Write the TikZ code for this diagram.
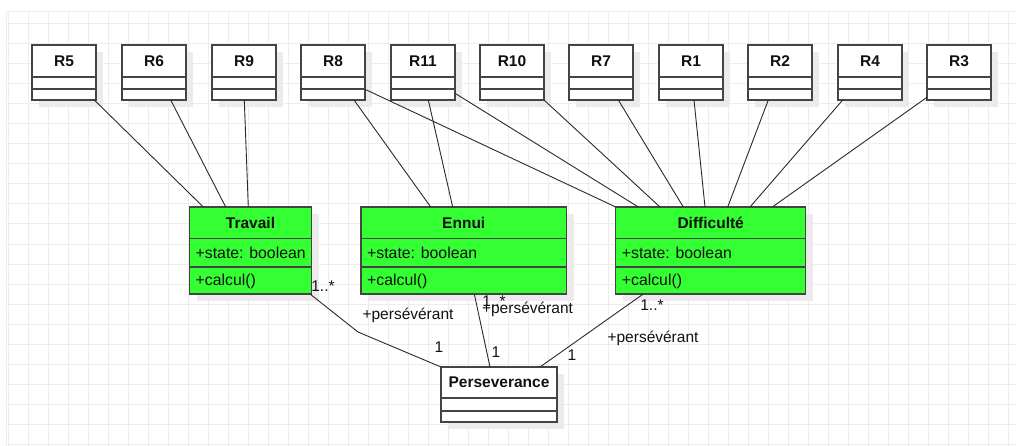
\documentclass[tikz,border=0pt]{standalone}
\usepackage{fontspec}
\setmainfont{Liberation Sans}
\usetikzlibrary{calc}
\definecolor{umlgreen}{HTML}{33FF33}
\definecolor{gridc}{HTML}{EDEDED}
\definecolor{edgec}{HTML}{2A2A2A}
\definecolor{borderc}{HTML}{444444}
\definecolor{shadowc}{HTML}{EBEBEB}
\definecolor{txtc}{HTML}{111111}
\tikzset{
  clsbox/.style={draw=borderc, line width=1.3pt, rectangle, anchor=north west, inner sep=0pt, outer sep=0pt},
  clsrule/.style={draw=borderc, line width=1.3pt},
  clstitle/.style={inner sep=0pt, font=\fontsize{15.5}{18}\selectfont\bfseries, text=txtc},
  clsattr/.style={inner sep=0pt, anchor=west, font=\fontsize{15.8}{18}\selectfont, text=txtc},
  edge/.style={draw=edgec, line width=0.9pt},
  lbl/.style={inner sep=0pt, font=\fontsize{15.5}{18}\selectfont, text=txtc},
  gridline/.style={draw=gridc, line width=1pt}
}
\newcommand{\umlcls}[9]{%
  \fill[shadowc] (#2+7,#3+7) rectangle (#2+#4+7,#3+#5+7);
  \node[clsbox, fill=#8, minimum width=#4pt, minimum height=#5pt] (#1) at (#2,#3) {};
  \node[clstitle] (#1-title) at ($(#1.north)+(0,#6/2)$) {#9};
  \draw[clsrule] ($(#1.north west)+(0,#6)$) -- ($(#1.north east)+(0,#6)$);
  \draw[clsrule] ($(#1.north west)+(0,#7)$) -- ($(#1.north east)+(0,#7)$);
}
\begin{document}
\begin{tikzpicture}[x=1pt, y=-1pt]
\useasboundingbox (0,0) rectangle (1016,446);
\fill[white] (0,0) rectangle (1016,446);
% grid
\foreach \gx in {8,28,...,1008} { \draw[gridline] (\gx,12) -- (\gx,446); }
\foreach \gy in {24,44,...,444} { \draw[gridline] (6,\gy) -- (1016,\gy); }
\draw[gridline] (6,12) -- (1016,12);
\draw[gridline] (6,12) -- (6,446);
% top classes
\foreach \n/\x in {R5/32,R6/122,R9/212,R8/301,R11/391,R10/480,R7/569,R1/659,R2/748,R4/838,R3/927} {
  \umlcls{\n}{\x}{45}{64}{55}{32}{44}{white}{\n}
}
% green classes
\umlcls{Travail}{189.5}{207}{122}{87}{31.5}{60}{umlgreen}{Travail}
\umlcls{Ennui}{361}{207}{205.5}{87}{31.5}{60}{umlgreen}{Ennui}
\umlcls{Diff}{615.7}{207}{190}{87}{31.5}{60}{umlgreen}{Difficulté}
\foreach \c in {Travail,Ennui,Diff} {
  \node[clsattr] (\c-attr) at ($(\c.north west)+(6,45.5)$) {+state: boolean};
  \node[clsattr] (\c-op) at ($(\c.north west)+(6,74)$) {+calcul()};
}
% Perseverance
\umlcls{Persev}{441}{367}{116}{55}{31}{44}{white}{Perseverance}
% edges top
\draw[edge] ($(R5.south west)+(62.3,0)$) -- ($(Travail.north west)+(13.8,0)$);
\draw[edge] ($(R6.south west)+(48.7,0)$) -- ($(Travail.north west)+(36.2,0)$);
\draw[edge] ($(R9.south west)+(32.3,0)$) -- ($(Travail.north west)+(58.8,0)$);
\draw[edge] ($(R8.south west)+(53,0)$) -- ($(Ennui.north west)+(69.7,0)$);
\draw[edge] ($(R11.south west)+(37.3,0)$) -- ($(Ennui.north west)+(91.7,0)$);
\draw[edge] ($(R8.north east)+(0,44.3)$) -- (Diff.north west);
\draw[edge] ($(R11.north east)+(0,48.3)$) -- ($(Diff.north west)+(22.6,0)$);
\draw[edge] (R10.south east) -- ($(Diff.north west)+(44.3,0)$);
\draw[edge] ($(R7.south west)+(49.3,0)$) -- ($(Diff.north west)+(67.6,0)$);
\draw[edge] ($(R1.south west)+(35,0)$) -- ($(Diff.north west)+(89.3,0)$);
\draw[edge] ($(R2.south west)+(20.3,0)$) -- ($(Diff.north west)+(112,0)$);
\draw[edge] ($(R4.south west)+(4.7,0)$) -- ($(Diff.north west)+(134.3,0)$);
\draw[edge] ($(R3.north west)+(0,52.3)$) -- ($(Diff.north west)+(156.6,0)$);
% edges bottom
\coordinate (bendT) at (358,332);
\draw[edge] ($(Travail.south east)+(-1.5,0)$) -- (bendT) -- (Persev.north west);
\draw[edge] ($(Ennui.south west)+(113.3,0)$) -- ($(Persev.north west)+(49,0)$);
\draw[edge] ($(Diff.south west)+(27.6,0)$) -- ($(Persev.north west)+(99,0)$);
% labels
\node[lbl] (m1) at (323,286.3) {1..*};
\node[lbl] (r1) at (408,315.5) {+persévérant};
\node[lbl] (o1) at (439,347) {1};
\node[lbl] (m2) at (494,301) {1..*};
\node[lbl] (r2) at (527.5,309) {+persévérant};
\node[lbl] (o2) at (496,352.5) {1};
\node[lbl] (m3) at (652,305) {1..*};
\node[lbl] (r3) at (653,338.5) {+persévérant};
\node[lbl] (o3) at (572,355.5) {1};
\end{tikzpicture}
\end{document}
